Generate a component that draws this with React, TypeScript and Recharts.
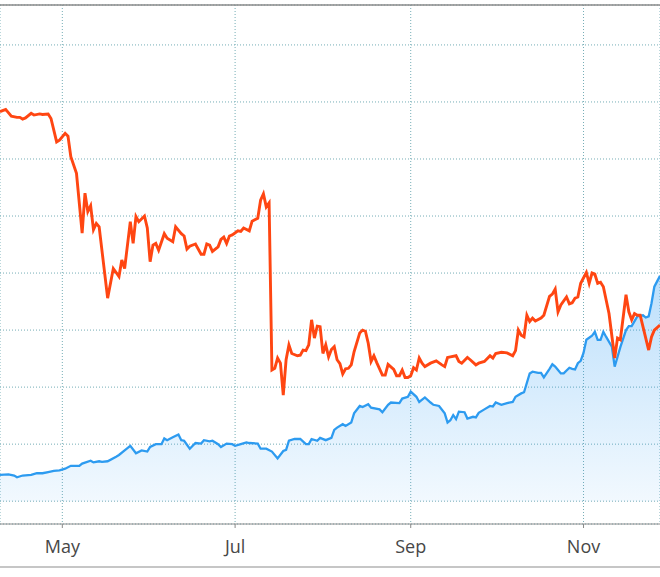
import React from 'react'
import { Area, CartesianGrid, ComposedChart, Line, ReferenceLine, XAxis, YAxis } from 'recharts'

// day of year, value
const redSeries: [number, number][] = [
  [99, 68.3], [101, 68.7], [103, 67.5], [105, 67.3], [106, 67.3], [107, 67.0], [108, 67.2], [110, 68.0], [111, 67.7], [113, 67.9],
  [114, 67.8], [116, 67.9], [117, 67.1], [119, 63.0], [120, 63.3], [122, 64.5], [123, 64.0], [124, 60.4], [126, 57.5], [128, 47.0],
  [129, 54.0], [130, 50.8], [131, 51.8], [132, 47.6], [133, 48.7], [134, 48.1], [137, 35.6], [139, 40.8], [141, 39.4], [142, 42.3],
  [143, 40.8], [145, 49.0], [146, 45.2], [147, 49.9], [148, 49.0], [150, 50.0], [151, 47.9], [152, 42.0], [153, 44.9], [154, 45.2],
  [155, 44.0], [157, 46.9], [158, 46.1], [160, 45.5], [161, 48.1], [163, 46.9], [164, 46.5], [165, 44.2], [166, 44.7], [168, 45.1],
  [170, 43.3], [171, 43.3], [172, 45.1], [173, 44.9], [174, 43.8], [176, 44.6], [177, 45.9], [178, 46.3], [179, 45.2], [180, 46.5],
  [181, 46.7], [183, 47.4], [184, 47.3], [185, 47.9], [187, 47.4], [188, 49.1], [190, 49.6], [191, 52.8], [192, 53.9], [193, 51.6],
  [194, 52.3], [195, 23.0], [196, 23.3], [197, 25.1], [198, 24.2], [199, 18.6], [200, 24.8], [201, 27.4], [202, 25.9], [204, 25.5],
  [205, 25.6], [206, 26.5], [207, 26.4], [208, 27.4], [209, 31.8], [210, 28.6], [211, 30.7], [212, 30.6], [213, 25.9], [214, 27.4],
  [215, 25.3], [216, 26.6], [217, 27.1], [218, 24.8], [219, 24.1], [220, 22.3], [221, 23.2], [222, 23.3], [223, 23.9], [224, 26.2],
  [226, 29.5], [227, 30.0], [228, 29.8], [229, 27.7], [230, 24.5], [231, 25.5], [232, 24.3], [234, 22.1], [235, 22.1], [236, 24.0],
  [238, 23.1], [239, 22.0], [240, 22.0], [241, 23.0], [242, 21.7], [243, 21.7], [244, 22.0], [245, 23.4], [246, 23.0], [247, 25.1],
  [248, 24.2], [249, 23.6], [251, 24.2], [253, 24.6], [255, 23.9], [256, 23.6], [257, 25.2], [258, 25.3], [260, 25.5], [261, 24.5],
  [262, 24.2], [264, 25.2], [265, 24.8], [267, 23.9], [268, 24.2], [270, 24.5], [272, 25.5], [273, 25.1], [274, 25.9], [276, 26.1],
  [278, 26.0], [280, 25.5], [281, 26.4], [282, 30.0], [283, 29.1], [284, 28.8], [285, 32.6], [286, 31.5], [287, 32.1], [288, 31.6],
  [290, 32.1], [291, 32.6], [293, 35.9], [294, 36.3], [295, 37.2], [296, 33.2], [297, 34.4], [299, 35.8], [300, 34.6], [301, 34.8],
  [302, 35.6], [303, 35.8], [304, 38.2], [306, 40.1], [307, 38.2], [308, 40.0], [309, 39.8], [310, 38.2], [311, 38.4], [312, 37.6],
  [314, 32.9], [316, 25.1], [317, 28.6], [318, 28.3], [320, 36.2], [321, 33.2], [322, 31.8], [323, 32.9], [324, 32.6], [325, 32.6],
  [328, 26.5], [329, 28.8], [330, 30.0], [332, 30.9],
]

const blueSeries: [number, number][] = [
  [99, 4.6], [102, 4.7], [104, 4.5], [105, 4.2], [107, 4.5], [110, 4.6], [112, 4.9], [114, 4.9], [116, 5.1], [118, 5.3],
  [120, 5.4], [122, 5.7], [124, 6.2], [127, 6.2], [128, 6.6], [131, 7.1], [132, 6.8], [134, 7.0], [135, 6.9], [137, 7.0],
  [140, 7.8], [141, 8.1], [143, 8.9], [145, 9.7], [147, 8.4], [149, 8.9], [151, 8.7], [152, 9.5], [154, 10.0], [156, 10.0],
  [157, 11.0], [158, 10.7], [160, 11.2], [162, 11.7], [163, 10.7], [164, 10.6], [166, 9.2], [168, 10.2], [170, 10.1], [171, 10.7],
  [173, 10.5], [174, 10.6], [176, 10.0], [177, 9.5], [179, 10.1], [181, 10.0], [182, 9.7], [184, 10.0], [186, 10.3], [187, 10.2],
  [190, 10.1], [191, 9.2], [193, 9.2], [195, 8.7], [197, 7.5], [199, 8.8], [200, 9.0], [201, 10.6], [203, 10.9], [205, 10.9],
  [207, 10.0], [208, 10.0], [209, 10.9], [211, 10.6], [212, 11.1], [214, 10.7], [216, 11.1], [217, 12.5], [218, 12.9], [220, 13.5],
  [221, 13.2], [223, 13.8], [224, 15.4], [226, 16.7], [227, 16.5], [229, 17.0], [230, 16.4], [233, 16.1], [234, 15.6], [236, 16.9],
  [237, 17.3], [240, 17.2], [241, 18.0], [243, 18.3], [244, 19.2], [246, 18.3], [247, 17.4], [249, 18.2], [251, 17.3], [252, 16.9],
  [254, 16.7], [256, 15.4], [257, 13.8], [258, 14.2], [259, 15.1], [260, 14.4], [261, 15.7], [263, 15.6], [264, 14.5], [266, 14.8],
  [267, 14.7], [268, 15.5], [270, 16.1], [272, 16.7], [273, 16.6], [274, 17.3], [276, 16.9], [278, 17.2], [280, 17.4], [281, 18.3],
  [283, 18.9], [284, 19.1], [286, 22.4], [287, 22.7], [289, 22.5], [290, 22.5], [291, 21.7], [293, 23.2], [294, 24.0], [295, 23.6],
  [296, 23.0], [297, 22.4], [298, 22.4], [300, 23.4], [301, 23.2], [302, 23.1], [303, 24.2], [304, 24.6], [305, 26.0], [306, 28.3],
  [308, 29.0], [309, 29.7], [310, 28.3], [311, 28.3], [312, 29.7], [313, 28.8], [315, 27.1], [316, 23.6], [317, 25.3], [318, 27.0],
  [320, 30.0], [321, 30.7], [322, 30.7], [324, 32.4], [326, 32.6], [327, 32.2], [328, 32.4], [329, 34.7], [330, 37.6], [332, 39.5],
]

const monthTicks = [121, 182, 244, 305]
const monthLabels = ['May', 'Jul', 'Sep', 'Nov']
const valueTicks = [0, 10, 20, 30, 40, 50, 60, 70, 80]

const chartData = (() => {
  const rows = new Map<number, { day: number; red?: number; blue?: number }>()
  redSeries.forEach(([day, v]) => rows.set(day, { ...(rows.get(day) || { day }), red: v }))
  blueSeries.forEach(([day, v]) => rows.set(day, { ...(rows.get(day) || { day }), blue: v }))
  return Array.from(rows.values()).sort((a, b) => a.day - b.day)
})()

export default function App() {
  return (
    <div style={{ position: 'absolute', left: 0, top: 0, width: 660, height: 577, background: '#fff' }}>
      <ComposedChart
        width={660}
        height={577}
        data={chartData}
        margin={{ top: 5, right: 0, bottom: 9, left: 0 }}
      >
        <defs>
          <linearGradient id='blueFill' x1='0' y1='0' x2='0' y2='1'>
            <stop offset='0%' stopColor='#2196f3' stopOpacity={0.5} />
            <stop offset='100%' stopColor='#2196f3' stopOpacity={0.1} />
          </linearGradient>
        </defs>
        <CartesianGrid stroke='#75adb6' strokeDasharray='1 2' />
        <XAxis
          type='number'
          dataKey='day'
          domain={[99, 332]}
          allowDataOverflow
          ticks={monthTicks}
          interval={0}
          tickFormatter={(d) => monthLabels[monthTicks.indexOf(d)]}
          height={44}
          tickSize={4}
          tickMargin={12}
          stroke='#8a8a8a'
          tick={{ fill: '#474747', fontSize: 18, fontFamily: 'Open Sans' }}
        />
        <YAxis hide type='number' domain={[-4, 87]} ticks={valueTicks} allowDataOverflow />
        <ReferenceLine y={87} stroke='#8a8a8a' strokeWidth={1.5} />
        <Line
          dataKey='red'
          type='linear'
          stroke='#ff4612'
          strokeWidth={2.9}
          dot={false}
          activeDot={false}
          connectNulls
          isAnimationActive={false}
        />
        <Area
          dataKey='blue'
          type='linear'
          stroke='#2d9bf0'
          strokeWidth={2.3}
          fill='url(#blueFill)'
          dot={false}
          activeDot={false}
          connectNulls
          isAnimationActive={false}
        />
      </ComposedChart>
      <div style={{ position: 'absolute', left: 0, top: 566, width: 660, height: 2, background: '#c6c6c6' }} />
    </div>
  )
}
